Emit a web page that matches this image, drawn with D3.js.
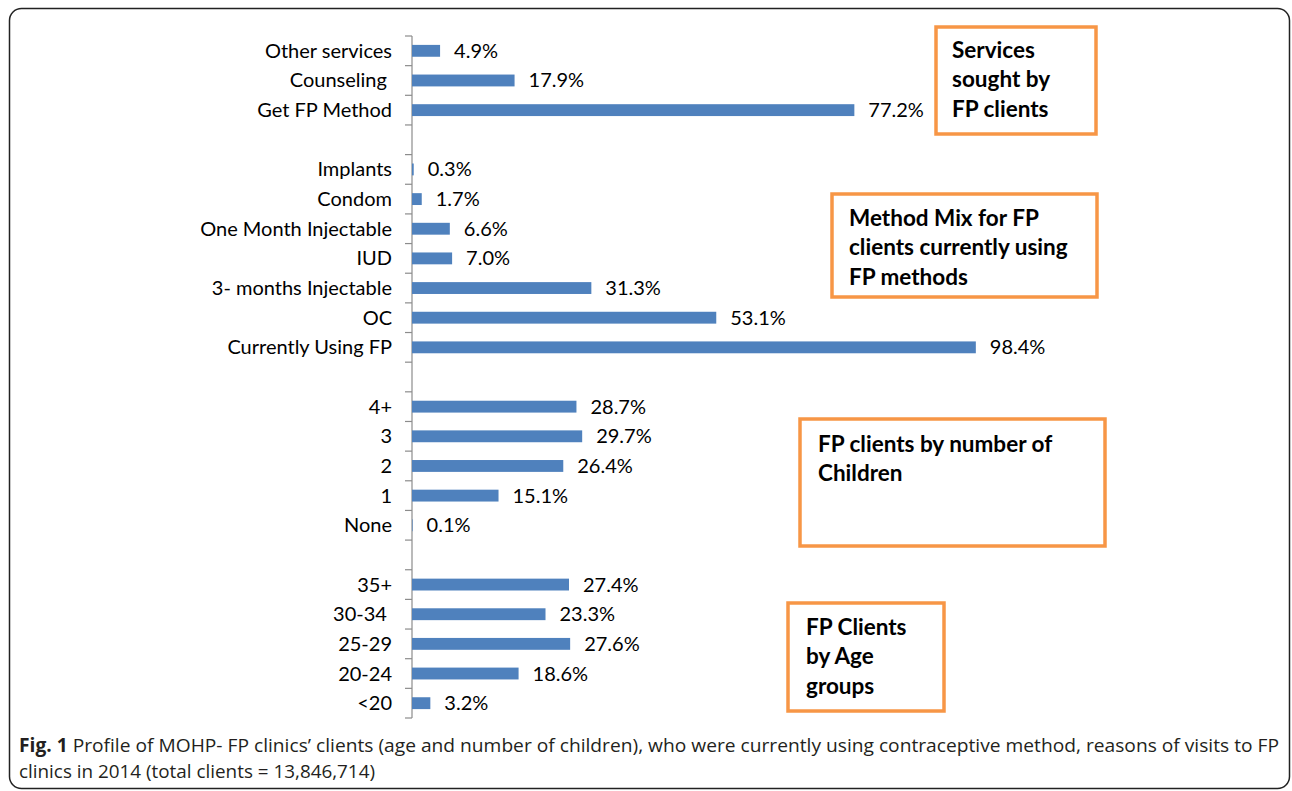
<!DOCTYPE html>
<html>
<head>
<meta charset="utf-8">
<script src="https://cdn.jsdelivr.net/npm/d3@7"></script>
<style>
  body { margin: 0; background: #fff; }
  text { white-space: pre; }
</style>
</head>
<body>
<div id="chart"></div>
<script>
// rows top to bottom, "" = spacer row between groups
const categories = ["Other services", "Counseling ", "Get FP Method", "",
  "Implants", "Condom", "One Month Injectable", "IUD", "3- months Injectable", "OC", "Currently Using FP", "",
  "4+", "3", "2", "1", "None", "",
  "35+", "30-34 ", "25-29", "20-24", "<20"];
const values = [4.9, 17.9, 77.2, null,
  0.3, 1.7, 6.6, 7.0, 31.3, 53.1, 98.4, null,
  28.7, 29.7, 26.4, 15.1, 0.1, null,
  27.4, 23.3, 27.6, 18.6, 3.2];
const boxTitles = [
  ["Services", "sought by", "FP clients"],
  ["Method Mix for FP", "clients currently using", "FP methods"],
  ["FP clients by number of", "Children"],
  ["FP Clients", "by Age", "groups"]
];
const captionBold = "Fig. 1";
const captionLines = [
  " Profile of MOHP- FP clinics\u2019 clients (age and number of children), who were currently using contraceptive method, reasons of visits to FP",
  "clinics in 2014 (total clients = 13,846,714)"
];

const width = 1292, height = 791;
const axisX = 412;
const font = "Lato, 'Open Sans', sans-serif";

const svg = d3.select("#chart").append("svg")
  .attr("width", width).attr("height", height);

// outer frame
svg.append("rect")
  .attr("x", 9.5).attr("y", 8.5)
  .attr("width", 1280).attr("height", 780)
  .attr("rx", 12)
  .attr("fill", "none").attr("stroke", "#222").attr("stroke-width", 1.5);

const x = d3.scaleLinear().domain([0, 100]).range([axisX, axisX + 573]);
const y = d3.scaleBand().domain(d3.range(categories.length))
  .range([36, 718]).paddingInner(0.6).paddingOuter(0.3);

const rows = categories.map((c, i) => ({ i, label: c, value: values[i] }));

// category axis, ticks between categories
const axis = svg.append("g").attr("stroke", "#8c8c8c").attr("stroke-width", 1.2);
axis.append("line")
  .attr("x1", axisX).attr("x2", axisX)
  .attr("y1", y.range()[0]).attr("y2", y.range()[1]);
axis.selectAll("line.tick")
  .data(d3.range(categories.length + 1))
  .join("line").attr("class", "tick")
  .attr("x1", axisX - 7).attr("x2", axisX)
  .attr("y1", d => y.range()[0] + d * y.step())
  .attr("y2", d => y.range()[0] + d * y.step());

svg.append("g")
  .selectAll("text")
  .data(rows.filter(d => d.label !== ""))
  .join("text")
  .attr("x", axisX - 20)
  .attr("y", d => y(d.i) + y.bandwidth() / 2)
  .attr("dy", "0.35em")
  .attr("text-anchor", "end")
  .attr("font-family", font)
  .attr("font-size", 20)
  .attr("fill", "#000")
  .text(d => d.label);

const data = rows.filter(d => d.value !== null);

svg.append("g")
  .selectAll("rect")
  .data(data)
  .join("rect")
  .attr("x", x(0))
  .attr("y", d => y(d.i))
  .attr("width", d => x(d.value) - x(0))
  .attr("height", y.bandwidth())
  .attr("fill", "#4f81bd");

svg.append("g")
  .selectAll("text")
  .data(data)
  .join("text")
  .attr("x", d => x(d.value) + 14)
  .attr("y", d => y(d.i) + y.bandwidth() / 2)
  .attr("dy", "0.35em")
  .attr("font-family", font)
  .attr("font-size", 20)
  .attr("fill", "#000")
  .text(d => d.value.toFixed(1) + "%");

// annotation boxes
const boxLayout = [
  { x: 936, y: 27, w: 160, h: 107, tx: 952, ty: 50 },
  { x: 832, y: 194, w: 265, h: 103, tx: 849, ty: 218 },
  { x: 800, y: 419, w: 305, h: 127, tx: 818, ty: 444 },
  { x: 788, y: 603, w: 156, h: 108, tx: 806, ty: 627 }
];
const boxes = svg.append("g").selectAll("g")
  .data(boxTitles.map((t, i) => ({ lines: t, ...boxLayout[i] })))
  .join("g");
boxes.append("rect")
  .attr("x", d => d.x).attr("y", d => d.y)
  .attr("width", d => d.w).attr("height", d => d.h)
  .attr("fill", "#fff").attr("stroke", "#f79646").attr("stroke-width", 3.5);
boxes.each(function(d) {
  d3.select(this).selectAll("text")
    .data(d.lines)
    .join("text")
    .attr("x", d.tx)
    .attr("y", (l, k) => d.ty + k * 29.6)
    .attr("dy", "0.35em")
    .attr("font-family", font)
    .attr("font-weight", "bold")
    .attr("font-size", 22.5)
    .attr("fill", "#000")
    .text(l => l);
});

// caption
const cap1 = svg.append("text")
  .attr("x", 19).attr("y", 752)
  .attr("font-family", "'Open Sans', sans-serif")
  .attr("font-size", 19)
  .attr("fill", "#231f20")
  .attr("textLength", 1260).attr("lengthAdjust", "spacingAndGlyphs");
cap1.append("tspan").attr("font-weight", "bold").text(captionBold);
cap1.append("tspan").attr("font-weight", 400).text(captionLines[0]);
svg.append("text")
  .attr("x", 19).attr("y", 778)
  .attr("font-family", "'Open Sans', sans-serif")
  .attr("font-size", 19)
  .attr("font-weight", 400)
  .attr("fill", "#231f20")
  .attr("textLength", 356).attr("lengthAdjust", "spacingAndGlyphs")
  .text(captionLines[1]);
</script>
</body>
</html>
